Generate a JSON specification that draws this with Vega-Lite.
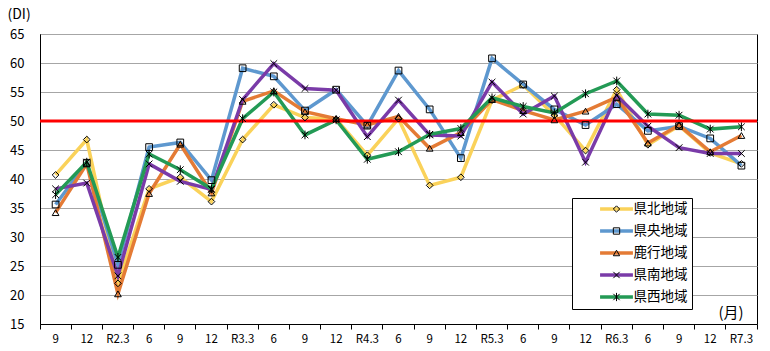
{
  "$schema": "https://vega.github.io/schema/vega-lite/v6.json",
  "width": 717,
  "height": 290,
  "autosize": {"type": "none"},
  "padding": {"left": 40, "top": 34, "right": 13, "bottom": 27},
  "background": "white",
  "config": {"font": "Noto Sans CJK JP", "view": {"stroke": "black", "strokeWidth": 1}},
  "data": {"values": [
    {"period": "R1.9", "県北地域": 40.7, "県央地域": 35.6, "鹿行地域": 34.2, "県南地域": 38.3, "県西地域": 37.3},
    {"period": "R1.12", "県北地域": 46.8, "県央地域": 42.8, "鹿行地域": 42.6, "県南地域": 39.3, "県西地域": 42.9},
    {"period": "R2.3", "県北地域": 22.0, "県央地域": 25.2, "鹿行地域": 20.2, "県南地域": 23.3, "県西地域": 26.5},
    {"period": "R2.6", "県北地域": 38.3, "県央地域": 45.5, "鹿行地域": 37.5, "県南地域": 42.6, "県西地域": 44.3},
    {"period": "R2.9", "県北地域": 40.3, "県央地域": 46.3, "鹿行地域": 46.0, "県南地域": 39.6, "県西地域": 41.6},
    {"period": "R2.12", "県北地域": 36.1, "県央地域": 39.8, "鹿行地域": 37.6, "県南地域": 38.2, "県西地域": 38.3},
    {"period": "R3.3", "県北地域": 46.8, "県央地域": 59.1, "鹿行地域": 53.4, "県南地域": 53.7, "県西地域": 50.4},
    {"period": "R3.6", "県北地域": 52.8, "県央地域": 57.7, "鹿行地域": 55.2, "県南地域": 59.9, "県西地域": 55.0},
    {"period": "R3.9", "県北地域": 50.6, "県央地域": 51.8, "鹿行地域": 51.6, "県南地域": 55.6, "県西地域": 47.6},
    {"period": "R3.12", "県北地域": 50.3, "県央地域": 55.4, "鹿行地域": 50.4, "県南地域": 55.3, "県西地域": 50.2},
    {"period": "R4.3", "県北地域": 44.1, "県央地域": 49.2, "鹿行地域": 49.3, "県南地域": 47.3, "県西地域": 43.4},
    {"period": "R4.6", "県北地域": 50.4, "県央地域": 58.7, "鹿行地域": 50.8, "県南地域": 53.6, "県西地域": 44.7},
    {"period": "R4.9", "県北地域": 38.9, "県央地域": 52.0, "鹿行地域": 45.3, "県南地域": 47.6, "県西地域": 47.7},
    {"period": "R4.12", "県北地域": 40.3, "県央地域": 43.6, "鹿行地域": 48.0, "県南地域": 47.4, "県西地域": 48.7},
    {"period": "R5.3", "県北地域": 53.6, "県央地域": 60.8, "鹿行地域": 53.7, "県南地域": 56.7, "県西地域": 54.0},
    {"period": "R5.6", "県北地域": 56.2, "県央地域": 56.3, "鹿行地域": 51.8, "県南地域": 51.2, "県西地域": 52.5},
    {"period": "R5.9", "県北地域": 51.0, "県央地域": 52.0, "鹿行地域": 50.2, "県南地域": 54.3, "県西地域": 51.4},
    {"period": "R5.12", "県北地域": 44.9, "県央地域": 49.3, "鹿行地域": 51.7, "県南地域": 42.9, "県西地域": 54.7},
    {"period": "R6.3", "県北地域": 55.4, "県央地域": 52.9, "鹿行地域": 54.1, "県南地域": 54.4, "県西地域": 56.9},
    {"period": "R6.6", "県北地域": 45.9, "県央地域": 48.3, "鹿行地域": 46.2, "県南地域": 49.1, "県西地域": 51.2},
    {"period": "R6.9", "県北地域": 49.2, "県央地域": 49.1, "鹿行地域": 49.3, "県南地域": 45.4, "県西地域": 51.0},
    {"period": "R6.12", "県北地域": 44.5, "県央地域": 47.0, "鹿行地域": 44.7, "県南地域": 44.4, "県西地域": 48.6},
    {"period": "R7.3", "県北地域": 42.6, "県央地域": 42.3, "鹿行地域": 47.5, "県南地域": 44.4, "県西地域": 49.0}
  ]},
  "transform": [{"fold": ["県北地域", "県央地域", "鹿行地域", "県南地域", "県西地域"], "as": ["region", "value"]}],
  "encoding": {
    "y": {
      "field": "value", "type": "quantitative",
      "scale": {"domain": [15, 65], "nice": false, "zero": false},
      "axis": {
        "title": "(DI)", "titleAngle": 0, "titleX": -33, "titleY": -20, "titleAlign": "left", "titleBaseline": "middle",
        "titleFontSize": 14, "titleFontWeight": "normal", "titleColor": "black",
        "values": [15, 20, 25, 30, 35, 40, 45, 50, 55, 60, 65], "tickCount": 20,
        "labelFontSize": 13, "labelColor": "black", "labelPadding": 16, "ticks": false,
        "labelOverlap": false, "labelBound": false,
        "domainColor": "black", "grid": true, "gridColor": "#a6a6a6"
      }
    }
  },
  "layer": [
    {
      "mark": {"type": "line", "strokeWidth": 3.5},
      "encoding": {
        "x": {
          "field": "period", "type": "ordinal", "sort": null,
          "scale": {"type": "band", "paddingInner": 0, "paddingOuter": 0},
          "axis": {
            "title": "(月)", "titleX": 678, "titleY": -12, "titleAlign": "left", "titleBaseline": "middle",
            "titleFontSize": 15, "titleFontWeight": "normal", "titleColor": "black",
            "labelExpr": "split(datum.value, '.')[1] == '3' ? datum.value : split(datum.value, '.')[1]",
            "labelAngle": 0, "labelFontSize": 11.5, "labelColor": "black", "labelPadding": 4,
            "bandPosition": 1, "tickExtra": true, "tickSize": 5,
            "tickColor": "black", "domainColor": "black", "grid": false, "labelOverlap": false
          }
        },
        "color": {
          "field": "region", "type": "nominal",
          "scale": {"domain": ["県北地域", "県央地域", "鹿行地域", "県南地域", "県西地域"],
                    "range": ["#FAD25A", "#5E98CF", "#E47B35", "#7A3BA8", "#239A55"]},
          "legend": {
            "orient": "none", "legendX": 532, "legendY": 164, "title": null,
            "padding": 4.25, "symbolOffset": 33.5, "labelOffset": 10.25,
            "symbolType": "M-6,0L6,0", "symbolSize": 30, "symbolStrokeWidth": 3.5,
            "labelFontSize": 13.5, "labelColor": "black", "labelFont": "Noto Sans CJK JP",
            "rowPadding": 7, "strokeColor": "black", "fillColor": "white",
            "labelExpr": "datum.label + '\u3000\u3000'"
          }
        }
      }
    },
    {
      "data": {"values": [{"ref": 50}]},
      "mark": {"type": "rule", "color": "#FF0000", "strokeWidth": 3},
      "encoding": {"y": {"field": "ref", "type": "quantitative"}}
    },
    {
      "mark": {"type": "point", "filled": false, "stroke": "black", "strokeWidth": 1, "size": 45, "opacity": 1},
      "encoding": {
        "x": {"field": "period", "type": "ordinal", "sort": null},
        "shape": {
          "field": "region", "type": "nominal", "sort": null,
          "scale": {"range": ["diamond", "square", "triangle-up", "M-1,-1L1,1M-1,1L1,-1", "M-1,-1L1,1M-1,1L1,-1M0,-1.3L0,1.3"]},
          "legend": {
            "orient": "none", "legendX": 532, "legendY": 164, "title": null,
            "padding": 4.25, "symbolOffset": 33.5, "labelOffset": 10.25,
            "symbolSize": 40, "symbolStrokeWidth": 1, "symbolStrokeColor": "black", "symbolFillColor": "transparent",
            "labelFontSize": 13.5, "labelOpacity": 0, "rowPadding": 7
          }
        }
      }
    }
  ]
}
